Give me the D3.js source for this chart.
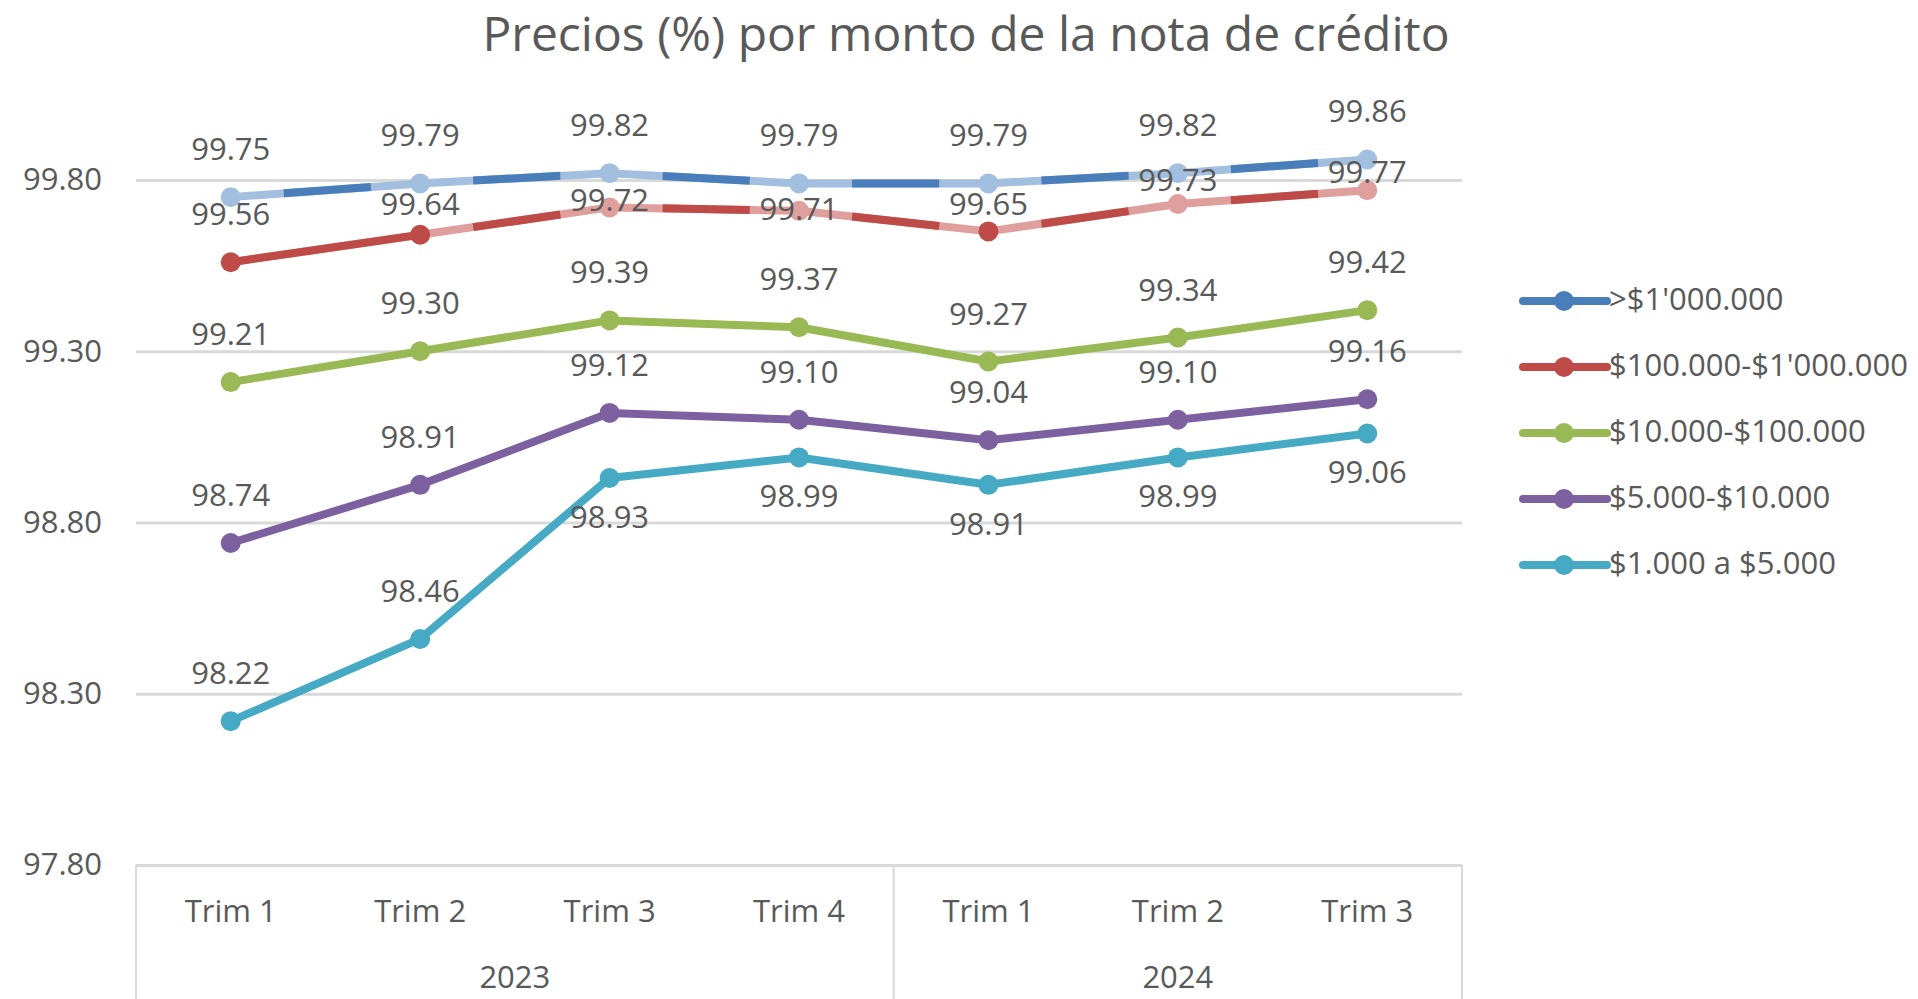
<!DOCTYPE html>
<html>
<head>
<meta charset="utf-8">
<script src="https://cdn.jsdelivr.net/npm/d3@7"></script>
<style>
  html, body { margin: 0; padding: 0; background: #fff; }
  svg { display: block; font-family: 'Open Sans', sans-serif; }
</style>
</head>
<body>
<div id="chart"></div>
<script>
// categories
const quarters = ['Trim 1', 'Trim 2', 'Trim 3', 'Trim 4', 'Trim 1', 'Trim 2', 'Trim 3'];
const years = ['2023', '2024'];
const quartersPerYear = [4, 3];

// series
const seriesNames = [">$1'000.000", "$100.000-$1'000.000", '$10.000-$100.000', '$5.000-$10.000', '$1.000 a $5.000'];
const over1M = [99.75, 99.79, 99.82, 99.79, 99.79, 99.82, 99.86];
const from100k = [99.56, 99.64, 99.72, 99.71, 99.65, 99.73, 99.77];
const from10k = [99.21, 99.30, 99.39, 99.37, 99.27, 99.34, 99.42];
const from5k = [98.74, 98.91, 99.12, 99.10, 99.04, 99.10, 99.16];
const from1k = [98.22, 98.46, 98.93, 98.99, 98.91, 98.99, 99.06];

const yTicks = [97.8, 98.3, 98.8, 99.3, 99.8];

const title = 'Precios (%) por monto de la nota de crédito';

// look
const colors = ['#4a7ebb', '#be4b48', '#98b954', '#7d60a0', '#46aac5'];
const lightColors = ['#a3bfe0', '#df9f9d', null, null, null];
const textColor = '#595959';
const gridColor = '#d9d9d9';

const width = 1918;
const height = 999;
const plot = { left: 136, right: 1462, top: 180, bottom: 865 };

const svg = d3.select('#chart')
  .append('svg')
    .attr('width', width)
    .attr('height', height);

const x = d3.scaleBand()
  .domain(d3.range(quarters.length))
  .range([plot.left, plot.right])
  .padding(0);

const y = d3.scaleLinear()
  .domain([97.8, 99.8])
  .range([plot.bottom, plot.top]);

const cx = i => x(i) + x.bandwidth() / 2;

// title
svg.append('text')
  .attr('x', 966)
  .attr('y', 51)
  .attr('text-anchor', 'middle')
  .attr('fill', textColor)
  .style('font-size', '48px')
  .text(title);

// y axis + gridlines
const yAxis = d3.axisLeft(y)
  .tickValues(yTicks)
  .tickFormat(d3.format('.2f'))
  .tickSize(-(plot.right - plot.left))
  .tickPadding(34);

const yg = svg.append('g')
  .attr('transform', 'translate(' + plot.left + ',0)')
  .call(yAxis);
yg.select('.domain').remove();
yg.selectAll('line').attr('stroke', gridColor).attr('stroke-width', 3);
yg.selectAll('text')
  .attr('fill', textColor)
  .style('font-size', '31px')
  .style('font-family', "'Open Sans', sans-serif");

// x axis (two levels)
const xAxis = d3.axisBottom(x)
  .tickFormat(i => quarters[i])
  .tickSize(0)
  .tickPadding(35);

const xg = svg.append('g')
  .attr('transform', 'translate(0,' + plot.bottom + ')')
  .call(xAxis);
xg.select('.domain').remove();
xg.selectAll('text')
  .attr('fill', textColor)
  .style('font-size', '31px')
  .style('font-family', "'Open Sans', sans-serif");

const yearStarts = quartersPerYear.map((n, k) => d3.sum(quartersPerYear.slice(0, k)));
const sepIdx = yearStarts.concat([quarters.length]);
const edgeX = i => (i < quarters.length ? x(i) : plot.right);

svg.append('g')
  .selectAll('line')
  .data(sepIdx)
  .enter()
  .append('line')
    .attr('x1', d => edgeX(d))
    .attr('x2', d => edgeX(d))
    .attr('y1', plot.bottom)
    .attr('y2', height)
    .attr('stroke', gridColor)
    .attr('stroke-width', 2);

svg.append('g')
  .selectAll('text')
  .data(years)
  .enter()
  .append('text')
    .attr('x', (d, k) => (edgeX(yearStarts[k]) + edgeX(yearStarts[k] + quartersPerYear[k])) / 2)
    .attr('y', 988)
    .attr('text-anchor', 'middle')
    .attr('fill', textColor)
    .style('font-size', '31px')
    .text(d => d);

// series
const allValues = [over1M, from100k, from10k, from5k, from1k];

// label baseline offsets from the point (px); negative = above
const aboveDy = -37;
const belowDy = 50;
const labelDy = [
  null,
  [-37, -20, 4, 9, -16, -13, -7],
  null,
  null,
  [aboveDy, aboveDy, belowDy, belowDy, belowDy, belowDy, belowDy]
];

const series = seriesNames.map((name, s) => ({
  name: name,
  values: allValues[s],
  color: colors[s],
  light: lightColors[s],
  dy: labelDy[s]
}));

// the two top series are drawn two-tone: light line with darker dashes
const darkDashes = [
  [[0.28, 0.74], [0.28, 0.74], [0.28, 0.74], [0.28, 0.74], [0.28, 0.74], [0.28, 0.74]],
  [[0, 0.97], [0.28, 0.74], [0.28, 0.74], [0.28, 0.74], [0.28, 0.74], [0.28, 0.74]]
];
const darkMarkers = [[], [0, 1, 4]];

const line = d3.line()
  .x(d => d[0])
  .y(d => d[1]);

const linesG = svg.append('g');

series.forEach((sr, s) => {
  const pts = sr.values.map((v, i) => [cx(i), y(v)]);
  const g = linesG.append('g');

  g.append('path')
    .datum(pts)
    .attr('fill', 'none')
    .attr('stroke', sr.light || sr.color)
    .attr('stroke-width', 8)
    .attr('stroke-linejoin', 'round')
    .attr('stroke-linecap', 'round')
    .attr('d', line);

  if (sr.light) {
    darkDashes[s].forEach((r, i) => {
      const p0 = pts[i], p1 = pts[i + 1];
      const seg = r.map(t => [p0[0] + (p1[0] - p0[0]) * t, p0[1] + (p1[1] - p0[1]) * t]);
      g.append('path')
        .datum(seg)
        .attr('fill', 'none')
        .attr('stroke', sr.color)
        .attr('stroke-width', 8)
        .attr('d', line);
    });
  }

  g.selectAll('circle')
    .data(sr.values)
    .enter()
    .append('circle')
      .attr('cx', (d, i) => cx(i))
      .attr('cy', d => y(d))
      .attr('r', 10)
      .attr('fill', (d, i) => (sr.light && !darkMarkers[s].includes(i)) ? sr.light : sr.color);
});

// data labels
const labelsG = svg.append('g');
series.forEach(sr => {
  labelsG.selectAll(null)
    .data(sr.values)
    .enter()
    .append('text')
      .attr('x', (d, i) => cx(i))
      .attr('y', (d, i) => y(d) + (sr.dy ? sr.dy[i] : aboveDy))
      .attr('text-anchor', 'middle')
      .attr('fill', textColor)
      .style('font-size', '31px')
      .text(d => d3.format('.2f')(d));
});

// legend
const legend = svg.append('g')
  .selectAll('g')
  .data(series)
  .enter()
  .append('g')
    .attr('transform', (d, i) => 'translate(1523,' + (301 + 66 * i) + ')');

legend.append('line')
  .attr('x1', 0)
  .attr('x2', 84)
  .attr('stroke', d => d.color)
  .attr('stroke-width', 8)
  .attr('stroke-linecap', 'round');

legend.append('circle')
  .attr('cx', 41)
  .attr('r', 10)
  .attr('fill', d => d.color);

legend.append('text')
  .attr('x', 86)
  .attr('y', 9)
  .attr('fill', textColor)
  .style('font-size', '31px')
  .text(d => d.name);
</script>
</body>
</html>
